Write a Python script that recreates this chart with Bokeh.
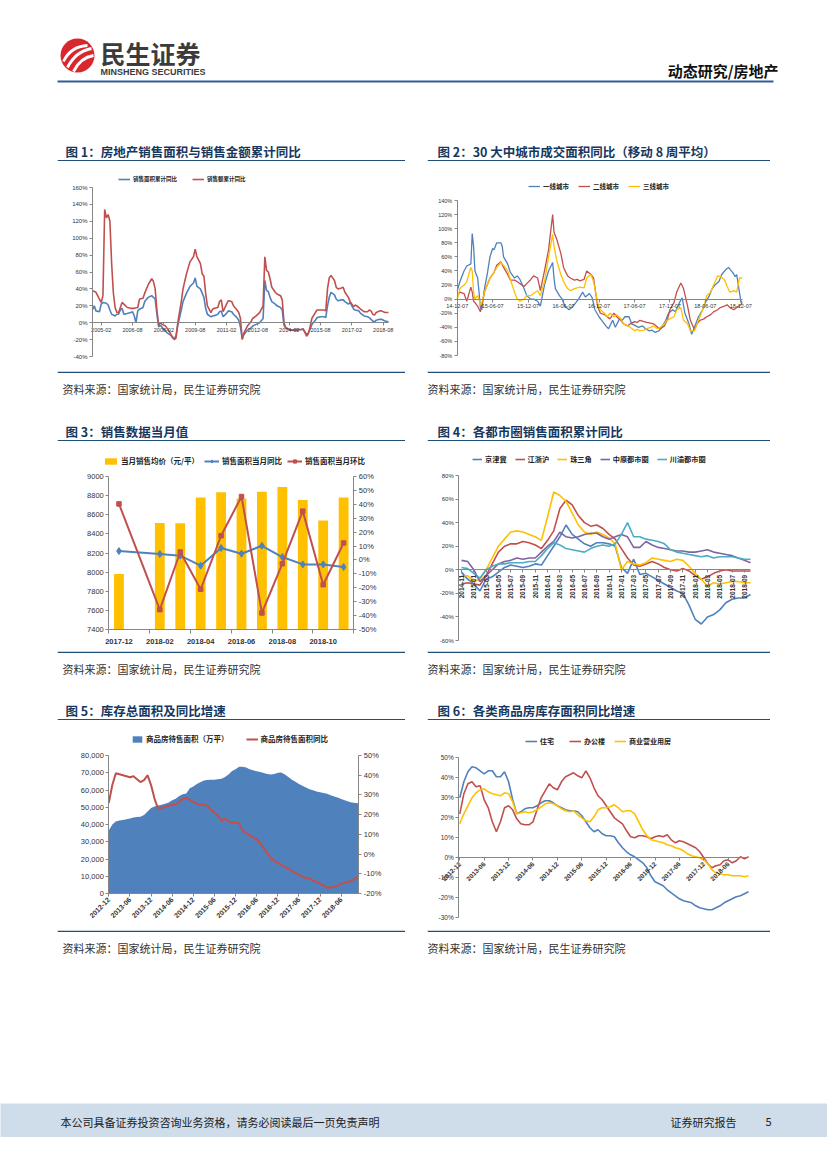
import math
from bokeh.plotting import figure
from bokeh.models import (Range1d, LinearAxis, FixedTicker, PrintfTickFormatter,
                          NumeralTickFormatter, Legend, LegendItem, Spacer)
from bokeh.layouts import column, row
from bokeh.core.properties import value
from bokeh.embed import file_html
from bokeh.resources import INLINE

CJK = "Noto Sans CJK SC"
LAT = "Liberation Sans"
BLUE = "#4f81bd"; RED = "#c0504d"; YEL = "#ffc000"; PUR = "#8064a2"; CYA = "#4bacc6"
NAVY = "#17375e"; RULE = "#1f4e79"; AXC = "#868686"; TXT = "#333333"

# ---------------- data ----------------
# Chart 1: cumulative YoY (%), x = month offset from 2004-09
c1_area_x = [0,1,2,4,5,6,8,9,10,11,13,14,15,16,17,18,20,22,23,24,25,26,27,29,30,32,34,35,36,37,
             38,39,41,43,45,46,47,48,49,51,52,54,56,58,59,60,62,63,64,65,66,68,69,71,72,73,74,75,77,78,
             80,81,83,84,85,86,87,89,91,92,94,96,98,99,100,101,102,103,105,106,108,109,110,111,113,115,117,120,121,123,
             124,125,126,128,129,131,133,134,135,136,137,139,140,141,143,144,145,147,148,149,150,151,153,154,156,158,159,160,161,162,
             163,165,166,168,170]
c1_area_y = [15,20,14,13,22,24,23,21,15,10,8,10,10,15,17,10,11,12,13,8,0,14,16,18,25,30,32,30,28,10,
             -5,-3,-8,-12,-15,-18,-19,-15,-3,15,25,35,43,47,53,43,40,35,30,17,10,7,8,9,10,13,14,7,11,14,
             13,10,6,3,-5,-19,-14,-9,-6,-4,-2,0,5,50,38,37,30,25,22,20,18,15,-3,-6,-8,-9,-8,-8,-8,-14,
             -12,-8,-2,3,6,7,7,6,20,30,36,33,28,26,27,27,25,22,24,20,16,15,14,11,8,7,6,4,2,1,
             3,4,4,2,1]
c1_value_x = [0,2,4,5,6,7,8,9,10,11,12,13,14,15,16,17,18,20,22,24,26,27,29,30,32,34,35,36,37,38,
              39,40,42,44,46,47,48,49,51,52,54,56,58,59,60,61,62,63,64,65,66,68,69,70,72,73,74,75,77,78,
              80,81,83,84,85,86,87,89,91,92,94,96,98,99,100,101,102,103,105,106,108,109,110,111,113,115,117,120,121,123,
              124,125,126,128,129,131,133,134,135,136,137,139,140,141,143,144,145,147,148,149,150,151,153,154,156,158,159,160,161,162,
              163,165,166,168,170]
c1_value_y = [38,36,28,24,32,134,124,128,120,70,35,18,12,12,18,24,22,18,17,17,18,28,29,35,45,52,49,40,15,-3,
              0,-2,-4,-10,-17,-20,-18,0,25,40,58,72,78,87,78,74,70,58,55,35,20,12,16,17,18,25,27,13,22,26,
              25,20,15,12,5,-20,-12,-4,1,5,8,12,20,78,62,60,52,42,36,34,32,27,0,-6,-8,-9,-9,-8,-7,-16,
              -13,-5,5,12,15,15,15,14,40,53,56,50,42,40,41,42,36,30,25,22,19,21,18,16,13,13,15,14,10,9,
              12,14,14,12,12]
c1_tick_pos = [5,23,41,59,77,95,113,131,149,167]
c1_tick_lab = ["2005-02","2006-08","2008-02","2009-08","2011-02","2012-08","2014-02","2015-08","2017-02","2018-08"]

# Chart 2: 30 cities, 8-week moving average YoY (%), x = weeks from 2014-12-07
c2_t1_w = [0,2,5,7,10,11,12,13,15,16,17,18,20,22,24,26,27,28,29,32,33,34,37,39,42,44,46,49,51,54,
           56,59,61,64,67,70,71,72,75,77,79,82,84,87,89,92,94,97,99,101,104,106,109,111,114,116,119,121,123,126,
           128,131,133,136,138,141,143,145,148,150,153,155,158,160,163,165,167,170,172,175,177,180,182,185,187,189,192,194,197,199,
           202,204,205,207,208,209]
c2_t1_v = [12,25,40,47,50,93,75,40,30,10,-12,-15,15,35,60,72,70,75,80,80,75,60,50,38,30,33,28,15,5,0,
           0,-3,-10,20,40,52,30,15,5,0,-10,-15,-12,-5,0,10,3,8,2,-15,-25,-30,-38,-42,-30,-40,-28,-30,-25,-25,
           -35,-38,-40,-38,-42,-45,-44,-47,-45,-40,-30,-20,-15,-18,-5,2,-20,-35,-50,-35,-25,-15,-5,5,15,20,25,35,42,45,
           38,32,35,10,-2,-5]
c2_t2_w = [0,2,5,7,10,11,12,13,15,17,20,22,24,27,29,32,34,37,39,42,44,46,49,51,54,56,59,61,64,67,
           70,71,73,76,78,81,83,86,88,90,93,95,98,100,103,105,108,110,112,115,117,120,122,125,127,130,132,134,137,139,
           142,144,147,149,152,154,156,159,161,164,166,169,171,174,176,178,181,183,186,188,191,193,196,198,200,203,205,208,209]
c2_t2_v = [5,10,8,-3,17,10,-3,-5,-10,-18,10,20,30,38,48,53,45,35,27,27,25,22,18,22,28,33,30,12,40,70,
           120,95,85,65,45,33,30,27,28,26,28,40,35,30,-10,-20,-22,-25,-28,-20,-25,-30,-35,-38,-35,-32,-33,-30,-32,-33,
           -34,-35,-40,-42,-38,-30,-15,-5,10,23,15,-10,-30,-43,-35,-30,-28,-25,-22,-18,-15,-12,-10,-8,-12,-15,-12,-8,-5]
c2_t3_w = [0,2,5,7,10,11,12,13,15,16,17,18,20,22,24,27,29,32,34,37,39,42,44,46,49,51,54,56,59,61,
           64,67,70,71,73,76,78,81,83,86,88,90,93,95,98,100,103,105,108,110,112,115,117,120,122,125,127,130,132,134,
           137,139,142,144,147,149,152,154,156,159,161,164,166,169,171,174,176,178,181,183,186,188,191,193,196,198,200,203,205,207,
           209]
c2_t3_v = [0,15,20,25,45,40,10,0,5,0,-8,-5,10,20,30,38,45,52,48,40,28,10,0,-3,0,5,5,8,12,5,
           25,60,92,75,55,35,25,15,12,15,16,17,16,30,35,25,-5,-15,-20,-25,-20,-25,-22,-28,-35,-38,-40,-45,-43,-45,
           -44,-42,-40,-38,-42,-40,-35,-30,-28,-25,-15,-12,-30,-35,-45,-45,-35,-25,-10,5,10,20,33,32,28,18,10,12,10,30,
           30]
c2_tick_pos = [0,26,52,78,104,130,156,182,208]
c2_tick_lab = ["14-12-07","15-06-07","15-12-07","16-06-07","16-12-07","17-06-07","17-12-07","18-06-07","18-12-07"]

# Chart 3: monthly values 2017-12 .. 2018-11 (index 0..11; 2018-01 not published)
c3_months = ["2017-12","2018-01","2018-02","2018-03","2018-04","2018-05","2018-06",
             "2018-07","2018-08","2018-09","2018-10","2018-11"]
c3_idx = [0,2,3,4,5,6,7,8,9,10,11]
c3_price = [7980,8515,8510,8780,8835,8770,8840,8890,8755,8540,8780]
c3_yoy = [6.4,4.3,3.1,-4.1,8.6,4.5,10.2,2.1,-3.2,-3.2,-5.1]
c3_mom = [40.3,-35.7,5.7,-21.1,17.4,45.6,-38.1,-2.7,35.1,-17.8,12.2]

# Chart 4: metro areas, cumulative YoY of sales area (%), 2014-11 .. 2018-10
c4_months = ["2014-11","2014-12"] + ["%d-%02d" % (y, m) for y in (2015, 2016, 2017) for m in range(1, 13)] + \
            ["2018-%02d" % m for m in range(1, 11)]
c4_jjj = [-2,-8,-12,-18,-8,-6,-2,2,4,3,2,3,5,4,12,20,28,38,30,26,22,20,23,23,22,20,2,-3,9,-4,
          -3,-6,-9,-12,-15,-18,-20,-30,-42,-46,-40,-38,-34,-28,-25,-24,-24,-21]
c4_jzh = [-12,-11,-12,-13,-5,5,15,20,22,22,24,23,21,18,25,33,52,59,55,46,40,37,38,35,30,26,18,10,4,3,
          5,7,5,2,0,-1,1,-1,-5,-8,-6,-3,-1,0,-1,-1,-1,-1]
c4_zsj = [-5,-5,-10,-8,0,10,20,26,32,33,32,30,28,25,45,66,63,58,48,38,32,30,32,30,27,22,0,7,5,4,
          6,10,9,8,7,9,8,3,-3,-8,-14,-11,-12,-11,-10,-10,-11,-11]
c4_zy = [8,7,0,-10,-5,0,5,7,8,10,9,10,10,15,20,24,32,28,27,28,30,31,31,28,26,28,30,28,19,19,
         24,21,19,18,17,16,16,15,15,16,17,15,14,13,12,10,8,6]
c4_cy = [2,1,-3,-7,0,3,5,5,6,6,6,7,7,12,18,23,21,18,17,16,15,18,20,21,20,22,30,40,28,28,
         26,25,24,22,17,15,14,13,12,11,12,10,11,11,11,10,9,9]

# Chart 5 / 6: monthly 2012-12 .. 2018-11
c56_months = ["2012-12"] + ["%d-%02d" % (y, m) for y in range(2013, 2018) for m in range(1, 13)] + \
             ["2018-%02d" % m for m in range(1, 12)]
c5_stock = [36500,40000,41800,42300,42600,43000,43500,44000,44300,44500,45500,47500,49500,50500,51000,51500,52000,52800,54000,55000,
            56500,57500,58000,61000,62000,63500,64500,65500,65800,66000,66000,66300,66500,67500,69000,71000,72000,73500,73500,73000,
            72000,71500,70800,70500,69800,69300,69000,69300,70000,70200,69000,67500,66000,64800,63500,62500,61500,60500,59800,59200,
            58700,58300,57800,57000,56200,55600,54800,54000,53300,52800,52500,52300]
c5_yoy = [26,35,41,40.5,40,39.5,39,39.5,38,36.5,37.5,40,35,28,23,23.5,24,24.5,25,25,
          26.5,28,28.5,27.5,26.5,25.5,25,25,24.5,22.5,21,19.5,17,18,16.5,16,16,15.5,12,10.5,
          9.5,8.5,7.5,5.5,3,0.5,-2,-3.5,-4.5,-5.5,-6.5,-7.5,-8.5,-9.5,-10.5,-11.5,-12,-12.5,-13.5,-14,
          -15,-16,-17,-17,-16.5,-16,-15,-14.5,-14,-13.5,-12.5,-11.5]
c6_res = [30,38,43,45.5,45,43.5,42,43.5,43.5,40.5,40.5,43,38,29,22,23,24.5,25,25,26,
          27.5,28.5,28.5,27.5,26,25,24,23.5,23.5,23,21,18,15,13,14,12,11,11,10.5,7.5,
          5,3,1.5,0.5,-1,-2.5,-5,-9,-12,-13,-14,-16,-17.5,-19,-20.5,-21.5,-22,-22.5,-24,-25,
          -25.5,-26,-26,-25,-24,-22.5,-21.5,-20.5,-19.5,-19,-18,-17]
c6_office = [22,32,37,38,35.5,36,29,25,18,13,18,25,26,24,19.5,17,16.5,16.5,18,24,
             30,33.5,37,35,34,38,40.5,41.5,42.5,41,40,43.5,40,35,31,29,26,23,20,18.5,
             17,13.5,10.5,10,11,11,10.5,9.5,10.5,11,10.5,11.5,9,7.5,8.5,8,7,6,5,3,
             0,-3,-5,-4,-3.5,-1.5,-1,-2.5,-1.5,0.5,-0.5,0.5]
c6_comm = [17,22,26,30,32.5,34,34.5,33,32,31.5,31,32.5,32,28,22,22.5,23,22.5,23,24,
           25.5,27,27.5,27,26,24.5,23.5,23,23.5,21.5,20,18.5,18,20.5,24,25,25,25.5,26.5,25,
           23,23.5,23.5,22,18,14,11,9,8.5,8,7.5,6.5,6,5,4.5,3.5,2,1,0.5,0,
           -1,-3,-6,-7.5,-8,-8.5,-8.5,-9,-9,-9,-9.5,-9]
c56_tick_pos = list(range(0, 72, 6))

SOURCE = "资料来源：国家统计局，民生证券研究院"

# ---------------- helpers ----------------
def canvas(w, h, x0, y0, fill="white"):
    p = figure(width=w, height=h, x_range=Range1d(x0, x0 + w), y_range=Range1d(y0 + h, y0),
               toolbar_location=None, output_backend="svg", min_border=0, title=None)
    p.axis.visible = False
    p.grid.visible = False
    p.outline_line_color = None
    p.background_fill_color = fill
    p.border_fill_color = fill
    return p

def chart(w, h, xr, yr):
    p = figure(width=w, height=h, x_range=xr, y_range=yr, min_border=0,
               toolbar_location=None, output_backend="svg", title=None)
    p.xgrid.visible = False
    p.ygrid.visible = False
    p.outline_line_color = None
    p.background_fill_color = "white"
    p.border_fill_color = "white"
    return p

def style_axis(ax, fs, bold=False):
    ax.axis_line_color = AXC
    ax.major_tick_line_color = AXC
    ax.minor_tick_line_color = AXC
    ax.major_tick_out = 3
    ax.major_tick_in = 0
    ax.minor_tick_out = 0
    ax.minor_tick_in = 0
    ax.major_label_text_font = LAT
    ax.major_label_text_font_size = fs
    ax.major_label_text_color = TXT
    ax.major_label_standoff = 2
    if bold:
        ax.major_label_text_font_style = "bold"

def add_legend(p, items, vx, vy, fs, spacing, gw=12):
    lg = Legend(items=[LegendItem(label=l, renderers=r) for l, r in items],
                orientation="horizontal", location=(vx, vy), padding=0, margin=0, spacing=spacing,
                glyph_width=gw, glyph_height=8, label_height=8, label_standoff=3,
                label_text_font=CJK, label_text_font_size=fs, label_text_font_style="bold",
                label_text_color="#222222", background_fill_alpha=0, border_line_alpha=0,
                label_text_baseline="middle")
    p.add_layout(lg)

def title_strip(w, text, tx):
    p = canvas(w, 21, 0, 0)
    p.text(x=[tx], y=[10.5], text=[text], text_font=value(CJK), text_font_size="12.5px",
           text_font_style="bold", text_color=NAVY, text_baseline="middle", text_align="left")
    p.segment(x0=[0], y0=[20.2], x1=[w], y1=[20.2], line_color=RULE, line_width=1.5)
    return p

def source_strip(w, tx):
    p = canvas(w, 29, 0, 0)
    p.segment(x0=[0], y0=[0.8], x1=[w], y1=[0.8], line_color=RULE, line_width=1.5)
    p.text(x=[tx], y=[17], text=[SOURCE], text_font=value(CJK), text_font_size="11px",
           text_color=TXT, text_baseline="middle", text_align="left")
    return p

def pct_fmt():
    return PrintfTickFormatter(format="%d%%")

# ---------------- header ----------------
hdr = canvas(827, 88, 0, 0)
hdr.circle(x=[77], y=[55], radius=17, fill_color="#d9272e", line_color=None)
hdr.quadratic(x0=[63, 67, 73], y0=[61, 67, 71], x1=[87, 91, 93], y1=[45, 48, 55],
              cx=[70, 75, 80], cy=[46, 51, 57], line_color="white", line_width=2.8)
hdr.text(x=[100], y=[52.5], text=["民生证券"], text_font=value(CJK), text_font_size="25px",
         text_font_style="bold", text_color="#3b3b3b", text_baseline="middle")
hdr.text(x=[100], y=[71], text=["MINSHENG SECURITIES"], text_font=value(LAT), text_font_size="9px",
         text_font_style="bold", text_color="#3b3b3b", text_baseline="middle")
hdr.text(x=[778], y=[69.5], text=["动态研究/房地产"], text_font=value(CJK), text_font_size="15px",
         text_font_style="bold", text_color="#111111", text_baseline="middle", text_align="right")
hdr.segment(x0=[57], y0=[81], x1=[773], y1=[81], line_color="#2d5f9a", line_width=2.2)

# ---------------- chart 1 ----------------
p1 = chart(348, 210, Range1d(-20.1, 179.8), Range1d(-57.75, 190.8))
r1a = p1.line(c1_area_x, c1_area_y, line_color=BLUE, line_width=1.6)
r1b = p1.line(c1_value_x, c1_value_y, line_color=RED, line_width=1.6)
p1.yaxis.fixed_location = 0
p1.yaxis.bounds = (-40, 160)
p1.yaxis.ticker = FixedTicker(ticks=list(range(-40, 161, 20)))
p1.yaxis.formatter = pct_fmt()
p1.xaxis.fixed_location = 0
p1.xaxis.bounds = (0, 170)
p1.xaxis.ticker = FixedTicker(ticks=c1_tick_pos)
p1.xaxis.major_label_overrides = {k: v for k, v in zip(c1_tick_pos, c1_tick_lab)}
style_axis(p1.yaxis[0], "6px")
style_axis(p1.xaxis[0], "5.5px")
add_legend(p1, [("销售面积累计同比", [r1a]), ("销售额累计同比", [r1b])], 61, 188, "5.5px", 15)

# ---------------- chart 2 ----------------
p2 = chart(343, 210, Range1d(-21.8, 229.8), Range1d(-102.7, 195.4))
r2a = p2.line(c2_t1_w, c2_t1_v, line_color=BLUE, line_width=1.3)
r2b = p2.line(c2_t2_w, c2_t2_v, line_color=RED, line_width=1.3)
r2c = p2.line(c2_t3_w, c2_t3_v, line_color=YEL, line_width=1.3)
p2.yaxis.fixed_location = 0
p2.yaxis.bounds = (-80, 140)
p2.yaxis.ticker = FixedTicker(ticks=list(range(-80, 141, 20)))
p2.yaxis.formatter = pct_fmt()
p2.xaxis.fixed_location = 0
p2.xaxis.bounds = (0, 209)
p2.xaxis.ticker = FixedTicker(ticks=c2_tick_pos)
p2.xaxis.major_label_overrides = {k: v for k, v in zip(c2_tick_pos, c2_tick_lab)}
style_axis(p2.yaxis[0], "5.5px")
style_axis(p2.xaxis[0], "5.5px")
add_legend(p2, [("一线城市", [r2a]), ("二线城市", [r2b]), ("三线城市", [r2c])], 101, 180, "6.5px", 9)

# ---------------- chart 3 ----------------
p3 = chart(348, 210, Range1d(-3.01, 14.03), Range1d(7170, 9366))
p3.extra_y_ranges = {"pct": Range1d(-65.8, 85.16)}
r3a = p3.vbar(x=c3_idx, top=c3_price, bottom=7400, width=0.48, fill_color=YEL, line_color=None)
r3b = p3.line(c3_idx, c3_yoy, line_color=BLUE, line_width=2, y_range_name="pct")
r3bm = p3.scatter(c3_idx, c3_yoy, marker="diamond", size=7, fill_color=BLUE, line_color=BLUE, y_range_name="pct")
r3c = p3.line(c3_idx, c3_mom, line_color=RED, line_width=2, y_range_name="pct")
r3cm = p3.scatter(c3_idx, c3_mom, marker="square", size=4.5, fill_color=RED, line_color=RED, y_range_name="pct")
p3.yaxis.fixed_location = -0.5
p3.yaxis.bounds = (7400, 9000)
p3.yaxis.ticker = FixedTicker(ticks=list(range(7400, 9001, 200)))
ax3r = LinearAxis(y_range_name="pct", ticker=FixedTicker(ticks=list(range(-50, 61, 10))),
                  formatter=pct_fmt(), fixed_location=11.5, bounds=(-50, 60))
p3.add_layout(ax3r, "right")
p3.xaxis.fixed_location = 7400
p3.xaxis.bounds = (-0.5, 11.5)
p3.xaxis.ticker = FixedTicker(ticks=[0, 2, 4, 6, 8, 10], minor_ticks=[-0.5, 1.5, 3.5, 5.5, 7.5, 9.5, 11.5])
p3.xaxis.major_label_overrides = {i: c3_months[i] for i in [0, 2, 4, 6, 8, 10]}
style_axis(p3.yaxis[0], "7.5px")
style_axis(ax3r, "7.5px")
style_axis(p3.xaxis[0], "7.5px", bold=True)
p3.xaxis.major_tick_out = 0
p3.xaxis.minor_tick_out = 4
p3.xaxis.major_label_standoff = 5
add_legend(p3, [("当月销售均价（元/平）", [r3a]), ("销售面积当月同比", [r3b, r3bm]),
                ("销售面积当月环比", [r3c, r3cm])], 46, 185, "7.5px", 5, gw=15)

# ---------------- chart 4 ----------------
c4_x = list(range(len(c4_months)))
p4 = chart(343, 210, Range1d(-5.53, 50.25), Range1d(-69.33, 108.85))
r4 = []
for ser, col in [(c4_jjj, BLUE), (c4_jzh, RED), (c4_zsj, YEL), (c4_zy, PUR), (c4_cy, CYA)]:
    r4.append(p4.line(c4_x, ser, line_color=col, line_width=1.6))
p4.yaxis.fixed_location = -0.45
p4.yaxis.bounds = (-60, 80)
p4.yaxis.ticker = FixedTicker(ticks=list(range(-60, 81, 20)))
p4.yaxis.formatter = pct_fmt()
p4.xaxis.fixed_location = 0
p4.xaxis.bounds = (-0.45, 47)
c4_ticks = list(range(0, 48, 2))
p4.xaxis.ticker = FixedTicker(ticks=c4_ticks)
p4.xaxis.major_label_overrides = {i: c4_months[i] for i in c4_ticks}
p4.xaxis.major_label_orientation = math.pi / 2
style_axis(p4.yaxis[0], "6px")
style_axis(p4.xaxis[0], "6.5px", bold=True)
add_legend(p4, [("京津冀", [r4[0]]), ("江浙沪", [r4[1]]), ("珠三角", [r4[2]]),
                ("中原都市圈", [r4[3]]), ("川渝都市圈", [r4[4]])], 45, 187, "7.2px", 8, gw=10)

# ---------------- chart 5 ----------------
c56_x = list(range(len(c56_months)))
p5 = chart(348, 210, Range1d(-14.57, 84.26), Range1d(-21449, 100290))
p5.extra_y_ranges = {"pct": Range1d(-38.77, 67.75)}
r5a = p5.varea(x=c56_x, y1=0, y2=c5_stock, fill_color=BLUE)
r5b = p5.line(c56_x, c5_yoy, line_color=RED, line_width=2, y_range_name="pct")
p5.yaxis.fixed_location = 0
p5.yaxis.bounds = (0, 80000)
p5.yaxis.ticker = FixedTicker(ticks=list(range(0, 80001, 10000)))
p5.yaxis.formatter = NumeralTickFormatter(format="0,0")
ax5r = LinearAxis(y_range_name="pct", ticker=FixedTicker(ticks=list(range(-20, 51, 10))),
                  formatter=pct_fmt(), fixed_location=71, bounds=(-20, 50))
p5.add_layout(ax5r, "right")
p5.xaxis.fixed_location = 0
p5.xaxis.bounds = (0, 71)
p5.xaxis.ticker = FixedTicker(ticks=c56_tick_pos)
p5.xaxis.major_label_overrides = {i: c56_months[i] for i in c56_tick_pos}
p5.xaxis.major_label_orientation = math.pi / 4
style_axis(p5.yaxis[0], "7.5px")
style_axis(ax5r, "7.5px")
style_axis(p5.xaxis[0], "7px", bold=True)
add_legend(p5, [("商品房待售面积（万平）", [r5a]), ("商品房待售面积同比", [r5b])], 74, 186, "7.5px", 17)

# ---------------- chart 6 ----------------
p6 = chart(343, 210, Range1d(-7.94, 76.4), Range1d(-36.35, 68.65))
r6a = p6.line(c56_x, c6_res, line_color=BLUE, line_width=1.6)
r6b = p6.line(c56_x, c6_office, line_color=RED, line_width=1.6)
r6c = p6.line(c56_x, c6_comm, line_color=YEL, line_width=1.6)
p6.yaxis.fixed_location = -0.25
p6.yaxis.bounds = (-30, 50)
p6.yaxis.ticker = FixedTicker(ticks=list(range(-30, 51, 10)))
p6.yaxis.formatter = pct_fmt()
p6.xaxis.fixed_location = 0
p6.xaxis.bounds = (-0.25, 71)
p6.xaxis.ticker = FixedTicker(ticks=c56_tick_pos)
p6.xaxis.major_label_overrides = {i: c56_months[i] for i in c56_tick_pos}
p6.xaxis.major_label_orientation = math.pi / 4
style_axis(p6.yaxis[0], "6.5px")
style_axis(p6.xaxis[0], "6.5px", bold=True)
add_legend(p6, [("住宅", [r6a]), ("办公楼", [r6b]), ("商业营业用房", [r6c])], 98, 184, "7px", 9)

# ---------------- footer ----------------
ftr = canvas(827, 34, 0, 1103, fill="#cfdcea")
ftr.text(x=[60], y=[1121], text=["本公司具备证券投资咨询业务资格，请务必阅读最后一页免责声明"],
         text_font=value(CJK), text_font_size="11px", text_color="#222222", text_baseline="middle")
ftr.text(x=[670, 765], y=[1121, 1121], text=["证券研究报告", "5"],
         text_font=value(CJK), text_font_size="11px", text_color="#222222", text_baseline="middle")

# ---------------- layout ----------------
def block(w, title, tx, chart_fig, sx):
    return column(title_strip(w, title, tx), chart_fig, source_strip(w, sx), spacing=0)

def chart_row(lt, lc, rt, rc):
    return row(Spacer(width=57, height=260), block(348, lt, 8, lc, 5),
               Spacer(width=22, height=260), block(343, rt, 10, rc, 0), spacing=0)

page = column(
    hdr,
    Spacer(width=827, height=52),
    chart_row("图 1：房地产销售面积与销售金额累计同比", p1, "图 2：30 大中城市成交面积同比（移动 8 周平均）", p2),
    Spacer(width=827, height=20),
    chart_row("图 3：销售数据当月值", p3, "图 4：各都市圈销售面积累计同比", p4),
    Spacer(width=827, height=19),
    chart_row("图 5：库存总面积及同比增速", p5, "图 6：各类商品房库存面积同比增速", p6),
    Spacer(width=827, height=144),
    ftr,
    spacing=0,
)

open("out.html", "w").write(file_html(page, INLINE))
